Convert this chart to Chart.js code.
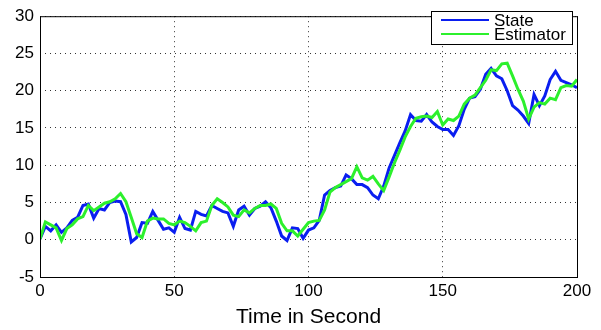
<!DOCTYPE html>
<html>
<head>
<meta charset="utf-8">
<title>State vs Estimator</title>
<script src="https://cdn.jsdelivr.net/npm/chart.js@4.4.1/dist/chart.umd.min.js"></script>
<style>
  html, body { margin: 0; padding: 0; background: #fff; }
</style>
</head>
<body>
<canvas id="grafico" width="601" height="330"></canvas>
<script>
// Tempo (s)
const tiempos = [
  0, 2, 4, 6, 8, 10, 12, 14, 16, 18,
  20, 22, 24, 26, 28, 30, 32, 34, 36, 38,
  40, 42, 44, 46, 48, 50, 52, 54, 56, 58,
  60, 62, 64, 66, 68, 70, 72, 74, 76, 78,
  80, 82, 84, 86, 88, 90, 92, 94, 96, 98,
  100, 102, 104, 106, 108, 110, 112, 114, 116, 118,
  120, 122, 124, 126, 128, 130, 132, 134, 136, 138,
  140, 142, 144, 146, 148, 150, 152, 154, 156, 158,
  160, 162, 164, 166, 168, 170, 172, 174, 176, 178,
  180, 182, 184, 186, 188, 190, 192, 194, 196, 198,
  200
];

// Serie "State" (azul)
const estado = [
  0.1, 1.8, 1.2, 2.0, 1.0, 1.6, 2.6, 3.0, 4.6, 4.8,
  2.9, 4.2, 4.0, 5.0, 5.2, 5.1, 3.4, -0.3, 0.3, 2.3,
  2.2, 3.8, 2.6, 1.4, 1.6, 1.0, 3.0, 1.5, 1.3, 3.8,
  3.4, 3.2, 4.6, 4.2, 3.8, 3.6, 1.8, 4.0, 4.5, 3.3,
  4.2, 4.5, 5.1, 4.3, 2.5, 0.5, -0.1, 1.6, 1.5, 0.2,
  1.3, 1.6, 2.6, 6.0, 6.6, 7.0, 7.2, 8.7, 8.2, 7.4,
  7.4, 7.0, 6.0, 5.5, 7.2, 9.6, 11.3, 13.0, 14.6, 16.8,
  16.0, 15.9, 16.8, 15.8, 15.2, 14.8, 14.8, 14.0, 15.3, 17.5,
  19.0, 19.2, 20.2, 22.2, 23.0, 22.0, 21.6, 20.0, 18.0, 17.4,
  16.6, 15.6, 19.5, 18.0, 19.3, 21.5, 22.6, 21.4, 21.1, 20.8,
  20.4
];

// Serie "Estimator" (verde)
const estimador = [
  0.1, 2.4, 2.0, 1.6, -0.1, 1.5, 2.0, 2.8, 3.1, 4.6,
  3.9, 4.4, 4.9, 5.1, 5.5, 6.2, 5.1, 3.0, 0.8, 0.3,
  2.5, 2.9, 2.8, 2.8, 2.2, 2.0, 2.5, 2.3, 1.8, 1.2,
  2.3, 2.5, 4.6, 5.5, 5.0, 4.4, 3.3, 3.1, 4.0, 3.6,
  4.2, 4.6, 4.6, 4.8, 4.2, 2.2, 1.2, 1.2, 0.5, 1.4,
  2.3, 2.5, 2.6, 4.0, 6.4, 7.0, 7.4, 7.8, 8.2, 9.8,
  8.3, 8.0, 8.5, 7.5, 6.6, 8.4, 10.3, 12.0, 13.8, 15.2,
  16.3, 16.5, 16.6, 16.4, 17.2, 15.4, 16.2, 16.0, 16.6, 18.2,
  19.0, 19.4, 20.4, 21.4, 22.8, 22.7, 23.6, 23.7, 22.0, 20.2,
  18.6, 16.2, 17.8, 18.4, 18.2, 19.0, 18.8, 20.4, 20.7, 20.6,
  21.5
];

const etiquetasSeries = ['State', 'Estimator'];
const ticksX = [0, 50, 100, 150, 200];
const ticksY = [-5, 0, 5, 10, 15, 20, 25, 30];

const AZUL = '#0a1ef0';
const VERDE = '#2cf02c';
const FONTE = '"Liberation Sans", Arial, Helvetica, sans-serif';

function pontos(valores) {
  return tiempos.map((t, i) => ({ x: t, y: valores[i] }));
}

// Caixa do eixo + legenda no estilo MATLAB
const caixaLegenda = {
  id: 'caixaLegenda',
  afterDatasetsDraw(chart) {
    const { ctx, chartArea: a } = chart;
    ctx.save();
    ctx.strokeStyle = '#000';
    ctx.lineWidth = 1;
    ctx.setLineDash([]);
    ctx.strokeRect(a.left + 0.5, a.top + 0.5, a.right - a.left, a.bottom - a.top);

    // legenda
    const x0 = 431, y0 = 11, w = 141, h = 33;
    ctx.fillStyle = '#fff';
    ctx.fillRect(x0, y0, w, h);
    ctx.strokeRect(x0 + 0.5, y0 + 0.5, w, h);
    const cores = [AZUL, VERDE];
    ctx.font = '17px ' + FONTE;
    ctx.textBaseline = 'middle';
    etiquetasSeries.forEach((txt, i) => {
      const y = y0 + 9 + i * 14;
      ctx.strokeStyle = cores[i];
      ctx.lineWidth = 2;
      ctx.beginPath();
      ctx.moveTo(x0 + 10, y);
      ctx.lineTo(x0 + 58, y);
      ctx.stroke();
      ctx.fillStyle = '#000';
      ctx.fillText(txt, x0 + 63, y + 1);
    });
    ctx.restore();
  }
};

const ctx = document.getElementById('grafico').getContext('2d');
new Chart(ctx, {
  type: 'line',
  data: {
    datasets: [
      {
        label: etiquetasSeries[0],
        data: pontos(estado),
        borderColor: AZUL,
        borderWidth: 3,
        pointRadius: 0,
        tension: 0,
        order: 2
      },
      {
        label: etiquetasSeries[1],
        data: pontos(estimador),
        borderColor: VERDE,
        borderWidth: 3,
        pointRadius: 0,
        tension: 0,
        order: 1
      }
    ]
  },
  options: {
    responsive: false,
    animation: false,
    layout: { padding: { left: 0, top: 8, right: 24, bottom: 0 } },
    plugins: {
      legend: { display: false },
      tooltip: { enabled: false }
    },
    scales: {
      x: {
        type: 'linear',
        min: 0,
        max: 200,
        afterBuildTicks: s => { s.ticks = ticksX.map(v => ({ value: v })); },
        afterFit: s => { s.height = 53; },
        ticks: {
          color: '#000',
          font: { family: FONTE, size: 17 },
          padding: 4,
          maxRotation: 0
        },
        grid: { color: '#333', lineWidth: 1, drawTicks: false },
        border: { display: false, dash: [1, 4] },
        title: {
          display: true,
          text: 'Time in Second',
          color: '#000',
          font: { family: FONTE, size: 21 },
          padding: { top: 0, bottom: 0 }
        }
      },
      y: {
        min: -5,
        max: 30,
        afterBuildTicks: s => { s.ticks = ticksY.map(v => ({ value: v })); },
        afterFit: s => { s.width = 40; },
        ticks: {
          color: '#000',
          font: { family: FONTE, size: 17 },
          padding: 6
        },
        grid: { color: '#333', lineWidth: 1, drawTicks: false },
        border: { display: false, dash: [1, 4] }
      }
    }
  },
  plugins: [caixaLegenda]
});
</script>
</body>
</html>
